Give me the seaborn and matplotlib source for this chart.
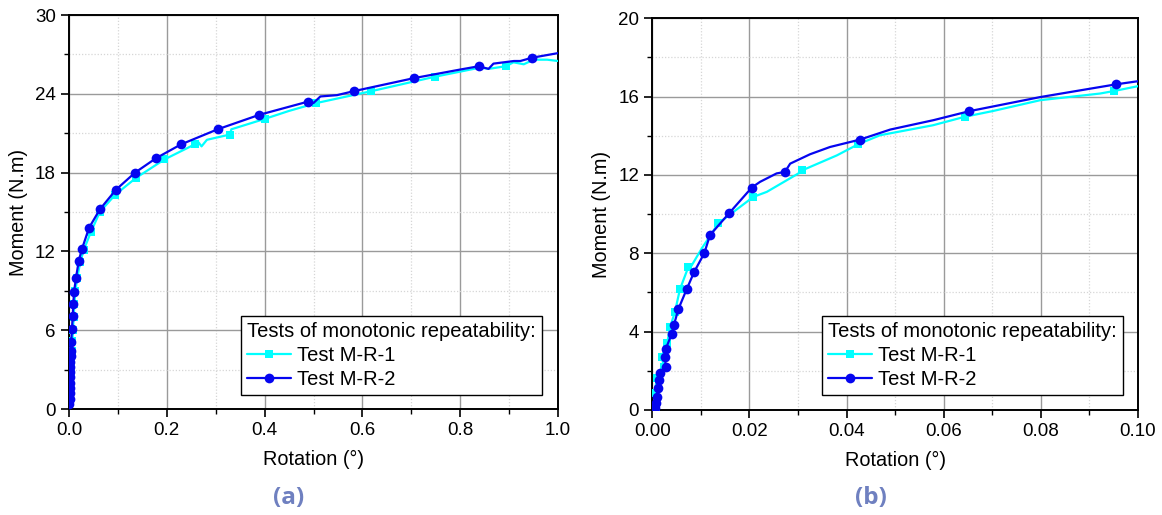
import numpy as np
import pandas as pd
import seaborn as sns
import matplotlib.pyplot as plt
from matplotlib.ticker import MultipleLocator

# ---- data (rotation in degrees, moment in N.m) ----
# panel (a), full range
rot_a1 = [0.0, 0.001, 0.002, 0.003, 0.004, 0.005, 0.006, 0.007, 0.008, 0.0095, 0.011, 0.013,
          0.017, 0.023, 0.030, 0.045, 0.063, 0.094, 0.137, 0.195, 0.257, 0.265, 0.271, 0.282,
          0.329, 0.332, 0.401, 0.450, 0.506, 0.618, 0.748, 0.841, 0.858, 0.893, 0.909, 0.930,
          0.950, 0.978, 1.0]
mom_a1 = [0.0, 0.5, 1.2, 2.0, 2.8, 3.6, 4.4, 5.2, 6.0, 7.0, 8.0, 9.0,
          10.0, 11.2, 12.1, 13.5, 15.0, 16.3, 17.6, 19.0, 20.15, 20.3, 20.0, 20.5,
          20.9, 21.3, 22.1, 22.7, 23.3, 24.2, 25.3, 26.0, 25.9, 26.1, 26.4, 26.25,
          26.6, 26.6, 26.5]
mark_a1 = [1, 2, 3, 4, 5, 6, 7, 8, 9, 10, 11, 12, 13, 14, 15, 16, 17, 18, 19, 20, 24, 26,
           28, 29, 30, 33]

rot_a2 = [0.0, 0.0008, 0.0012, 0.0015, 0.0018, 0.002, 0.0022, 0.0025, 0.0028, 0.003, 0.0032,
          0.0035, 0.0045, 0.006, 0.0075, 0.0088, 0.0102, 0.0143, 0.020, 0.0266, 0.041, 0.063,
          0.096, 0.135, 0.178, 0.229, 0.304, 0.389, 0.488, 0.500, 0.514, 0.548, 0.582, 0.706,
          0.800, 0.838, 0.858, 0.868, 0.910, 0.923, 0.947, 1.0]
mom_a2 = [0.0, 0.4, 0.8, 1.2, 1.6, 2.0, 2.4, 2.8, 3.2, 3.6, 4.0,
          4.4, 5.1, 6.1, 7.1, 8.0, 8.9, 10.0, 11.3, 12.2, 13.8, 15.2,
          16.7, 18.0, 19.1, 20.15, 21.3, 22.4, 23.4, 23.3, 23.8, 23.9, 24.2, 25.2,
          25.85, 26.1, 25.9, 26.3, 26.5, 26.5, 26.75, 27.1]
mark_a2 = [1, 2, 3, 4, 5, 6, 7, 8, 9, 10, 11, 12, 13, 14, 15, 16, 17, 18, 19, 20, 21, 22, 23,
           24, 25, 26, 27, 28, 32, 33, 35, 40]

# panel (b), zoom on the first 0.1 degree
rot_b1 = [0.0007, 0.00056, 0.0009, 0.0024, 0.00194, 0.0031, 0.00365, 0.00468, 0.0052, 0.0057,
          0.0074, 0.00776, 0.0102, 0.0136, 0.0208, 0.0236, 0.0301, 0.0309, 0.038, 0.0424,
          0.0469, 0.0578, 0.0643, 0.0702, 0.0799, 0.0922, 0.0951, 0.1003]
mom_b1 = [0.17, 0.85, 1.63, 2.21, 2.72, 3.43, 4.22, 5.0, 5.6, 6.16,
          7.28, 7.23, 8.25, 9.53, 10.88, 11.14, 12.08, 12.24, 13.0, 13.57,
          14.03, 14.54, 14.97, 15.27, 15.82, 16.16, 16.29, 16.55]
mark_b1 = [0, 1, 2, 3, 4, 5, 6, 7, 9, 10, 13, 14, 17, 19, 22, 26]

rot_b2 = [0.0, 0.00056, 0.0007, 0.0009, 0.00124, 0.00138, 0.00159, 0.00276, 0.00262, 0.00276,
          0.004, 0.00447, 0.00536, 0.00708, 0.00865, 0.01071, 0.01189, 0.0158, 0.0205, 0.0222,
          0.0256, 0.02733, 0.0284, 0.0325, 0.0366, 0.0428, 0.049, 0.0579, 0.0653, 0.0799,
          0.0955, 0.1003]
mom_b2 = [0.0, 0.09, 0.34, 0.68, 1.1, 1.53, 1.90, 2.21, 2.72, 3.10,
          3.88, 4.34, 5.14, 6.16, 7.06, 8.0, 8.93, 10.04, 11.36, 11.65,
          12.08, 12.16, 12.58, 13.06, 13.43, 13.81, 14.32, 14.8, 15.26, 15.98,
          16.63, 16.8]
mark_b2 = [1, 2, 3, 4, 5, 6, 7, 8, 9, 10, 11, 12, 13, 14, 15, 16, 17, 18, 21, 25, 28, 30]

series_names = ["Test M-R-1", "Test M-R-2"]
legend_title = "Tests of monotonic repeatability:"
x_label = "Rotation (°)"
y_label = "Moment (N.m)"
panel_tags = ["(a)", "(b)"]

sns.set_style("ticks")
plt.rcParams['font.family'] = ['Liberation Sans', 'DejaVu Sans']
plt.rcParams['text.color'] = 'black'
plt.rcParams['axes.labelcolor'] = 'black'

fig = plt.figure(figsize=(11.62, 5.15), dpi=100)
ax_a = fig.add_axes([0.0594, 0.2058, 0.4208, 0.765])
ax_b = fig.add_axes([0.5613, 0.2039, 0.418, 0.7605])

c1, c2 = "#00ffff", "#0505f0"


def draw_panel(ax, r1, m1, k1, r2, m2, k2):
    sns.lineplot(x=r1, y=m1, ax=ax, sort=False, estimator=None, color=c1, lw=1.6,
                 marker="s", markersize=6, markeredgewidth=0, markevery=k1,
                 label=series_names[0], zorder=3)
    sns.lineplot(x=r2, y=m2, ax=ax, sort=False, estimator=None, color=c2, lw=1.6,
                 marker="o", markersize=7, markeredgewidth=0, markevery=k2,
                 label=series_names[1], zorder=4)


draw_panel(ax_a, rot_a1, mom_a1, mark_a1, rot_a2, mom_a2, mark_a2)
draw_panel(ax_b, rot_b1, mom_b1, mark_b1, rot_b2, mom_b2, mark_b2)

setup = [
    (ax_a, (0, 1.0), (0, 30), 0.2, 0.1, 6, 3, "{:.1f}", (0.967, 0.036), panel_tags[0]),
    (ax_b, (0, 0.10), (0, 20), 0.02, 0.01, 4, 2, "{:.2f}", (0.9685, 0.038), panel_tags[1]),
]
for ax, xl, yl, xmaj, xmin, ymaj, ymin, fmt, anchor, tag in setup:
    ax.set_xlim(*xl)
    ax.set_ylim(*yl)
    ax.xaxis.set_major_locator(MultipleLocator(xmaj))
    ax.xaxis.set_minor_locator(MultipleLocator(xmin))
    ax.yaxis.set_major_locator(MultipleLocator(ymaj))
    ax.yaxis.set_minor_locator(MultipleLocator(ymin))
    ax.xaxis.set_major_formatter(plt.FuncFormatter(lambda v, p, f=fmt: f.format(v)))
    ax.grid(which="major", color="#9a9a9a", lw=1.0, ls="-")
    ax.grid(which="minor", color="#d6d6d6", lw=0.9, ls=(0, (1, 1.5)))
    ax.set_axisbelow(True)
    for s in ax.spines.values():
        s.set_visible(True)
        s.set_color("black")
        s.set_linewidth(1.4)
    ax.tick_params(which="major", direction="out", length=6, width=1.2, labelsize=13.5,
                   colors="black", top=False, right=False)
    ax.tick_params(which="minor", direction="out", length=3.5, width=1.0, colors="black",
                   top=False, right=False)
    ax.set_xlabel(x_label, fontsize=14.3, labelpad=8)
    ax.set_ylabel(y_label, fontsize=14.3, labelpad=5)
    leg = ax.legend(title=legend_title, loc="lower right", bbox_to_anchor=anchor,
                    borderaxespad=0, fontsize=14.5, title_fontsize=14.5, frameon=True,
                    fancybox=False, edgecolor="black", framealpha=1,
                    handlelength=2.2, handletextpad=0.3, labelspacing=0.25,
                    borderpad=0.3)
    leg.get_frame().set_linewidth(1.0)
    leg._legend_box.align = "left"
    ax.text(0.45, -0.225, tag, transform=ax.transAxes, ha="center", va="center",
            fontsize=17.5, fontweight="bold", color="#6f80c0",
            family=["Open Sans", "DejaVu Sans"])

fig.savefig("out.png", dpi=100)
